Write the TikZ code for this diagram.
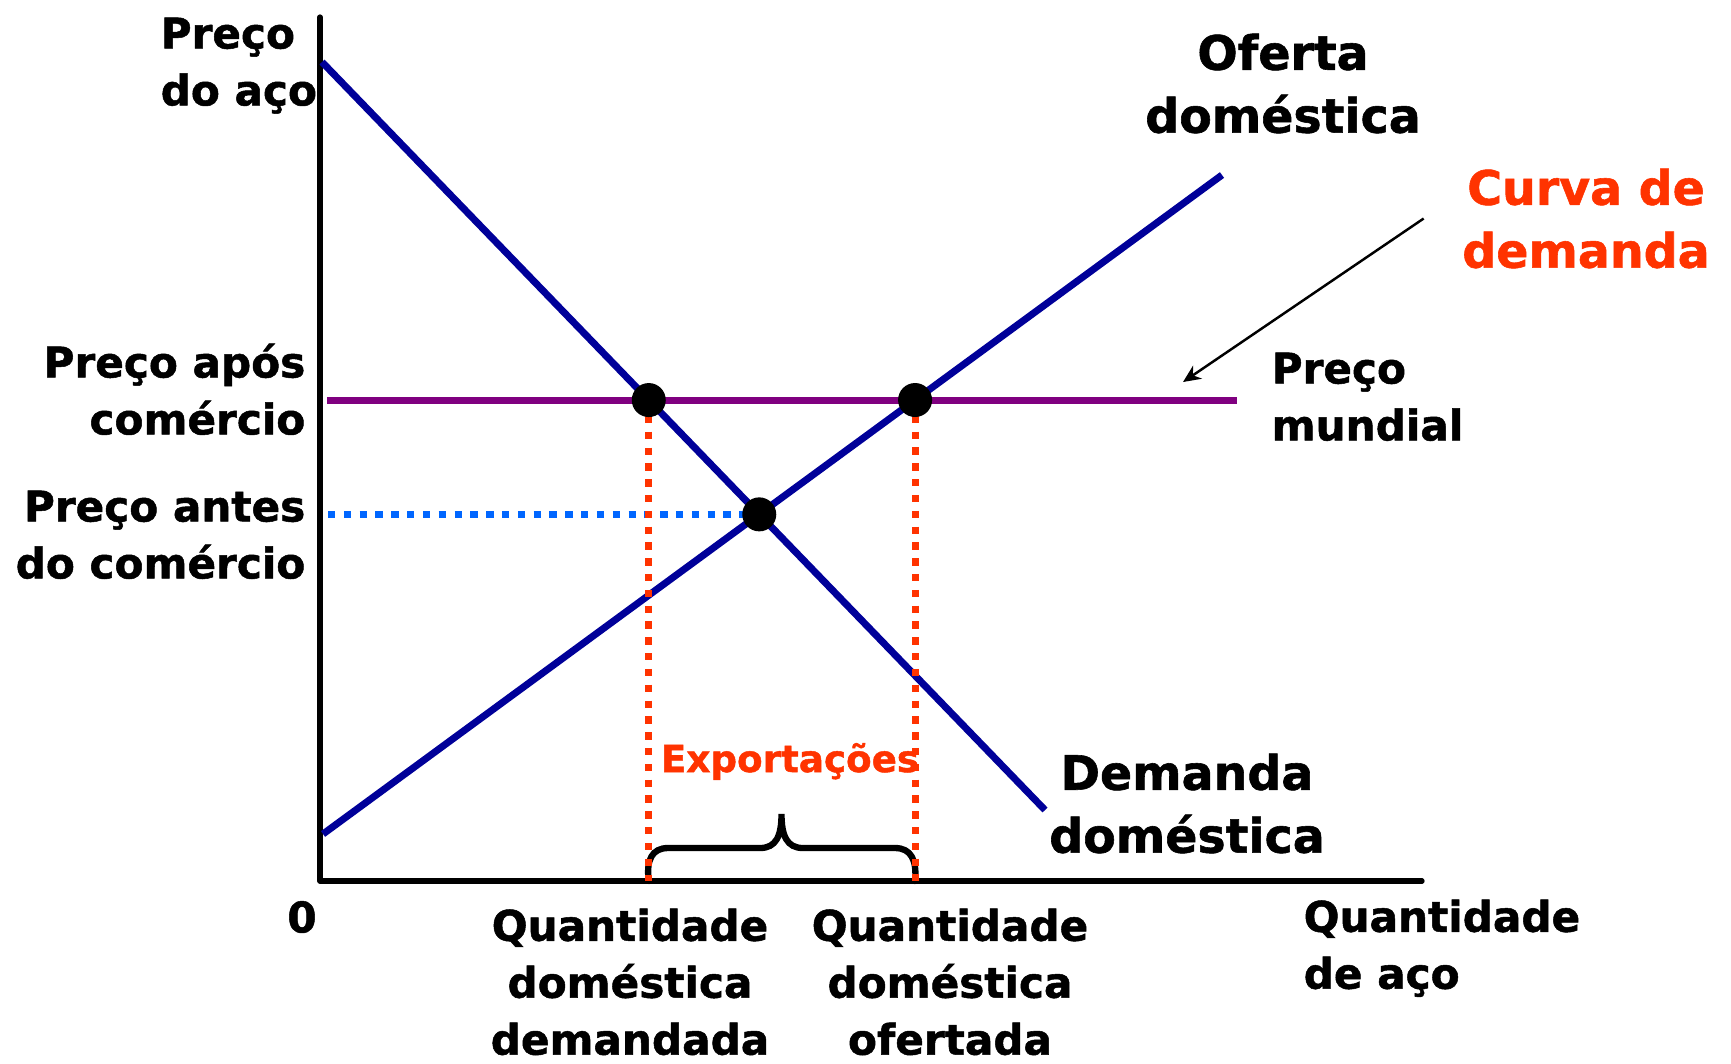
\documentclass[tikz,border=0pt]{standalone}
\usepackage{fontspec}
\setmainfont[BoldFeatures={FakeBold=1.2}]{DejaVu Sans}
\usepackage{xcolor}
\usetikzlibrary{positioning, arrows.meta}
\definecolor{curveblue}{HTML}{000099}
\definecolor{worldpurple}{HTML}{800080}
\definecolor{tradered}{HTML}{FF3300}
\definecolor{priceblue}{HTML}{0066FF}

\begin{document}
\begin{tikzpicture}[x=0.1mm, y=-0.1mm,
	lbl/.style={font=\fontsize{12}{16.2}\selectfont\bfseries, inner sep=0},
	biglbl/.style={font=\fontsize{13.5}{17.9}\selectfont\bfseries, inner sep=0},
	curve/.style={line width=2pt, curveblue},
	dotline/.style={line width=2pt, dash pattern=on 2.1pt off 2.4pt},
	dot/.style={circle, fill=black, inner sep=0, minimum size=3.4mm},
	]
		\useasboundingbox (0,0) rectangle (1731,1063);

		%Coordinates
		\coordinate (O)    at (320,881);
		\coordinate (ytop) at (320,17);
		\coordinate (xend) at (1422,881);
		\coordinate (dA)   at (322,62);
		\coordinate (dB)   at (1045,810);
		\coordinate (sA)   at (323,834);
		\coordinate (sB)   at (1222,175);
		\coordinate (wA)   at (327,400);
		\coordinate (wB)   at (1237,400);
		\coordinate (pd)   at (intersection of dA--dB and wA--wB);
		\coordinate (ps)   at (intersection of sA--sB and wA--wB);
		\coordinate (pe)   at (intersection of dA--dB and sA--sB);
		\coordinate (qd)   at (pd |- O);
		\coordinate (qs)   at (ps |- O);
		\coordinate (pb)   at ([xshift=0.8mm]pe -| O);
		\coordinate (wtip) at (1183,382);

		%Lines
		\draw[line width=1.5pt, line cap=round, line join=round] (ytop) -- (O) -- (xend);
		\draw[curve] (dA) -- (dB);
		\draw[curve] (sA) -- (sB);
		\draw[line width=2pt, worldpurple] (wA) -- (wB);

		%Brace
		\draw[line width=1.8pt, line cap=round] (qd) .. controls (646,860) and (652,848) .. (668,848)
			-- (760,848) .. controls (776,848) and (781.5,836) .. (781.5,814)
			.. controls (781.5,836) and (787,848) .. (803,848)
			-- (895,848) .. controls (911,848) and (917,860) .. (qs);

		%Nodes
		\node[lbl, anchor=north west, align=left]   (ylab)    at (160,17)  {Preço\\do aço};
		\node[lbl, anchor=north east, align=right]  (pafter)  at (306,343) {Preço após\\comércio};
		\node[lbl, anchor=north east, align=right]  (pbefore) at (306,490) {Preço antes\\do comércio};
		\node[lbl]                                  (zero)    at (302,917) {0};
		\node[lbl, anchor=north, align=center]      (qdlab)   at (630,908) {Quantidade\\doméstica\\demandada};
		\node[lbl, anchor=north, align=center]      (qslab)   at (950,908) {Quantidade\\doméstica\\ofertada};
		\node[lbl, anchor=north west, align=left]   (xlab)    at (1303,899) {Quantidade\\de aço};
		\node[lbl, anchor=north west, align=left]   (wlab)    at (1271,352) {Preço\\mundial};
		\node[biglbl, anchor=north, align=center]   (slab)    at (1283,33) {Oferta\\doméstica};
		\node[biglbl, anchor=north, align=center]   (dlab)    at (1187,753) {Demanda\\doméstica};
		\node[biglbl, anchor=north, align=center, text=tradered] (curva) at (1586,168) {Curva de\\demanda};
		\node[font=\fontsize{10.6}{12}\selectfont\bfseries, text=tradered, anchor=base, inner sep=0] (exp) at (790,772) {Exportações};

		%Dotted lines
		\draw[dotline, priceblue] (pb) -- (pe);
		\draw[dotline, tradered] (pd) -- (qd);
		\draw[dotline, tradered] (ps) -- (qs);

		%Arrow
		\draw[line width=0.7pt, -{Stealth[length=5pt, width=4.5pt]}] ([xshift=-3.8mm]curva.west) -- (wtip);

		%Points
		\node[dot] (ptd) at (pd) {};
		\node[dot] (pts) at (ps) {};
		\node[dot] (pte) at (pe) {};
	\end{tikzpicture}
\end{document}
